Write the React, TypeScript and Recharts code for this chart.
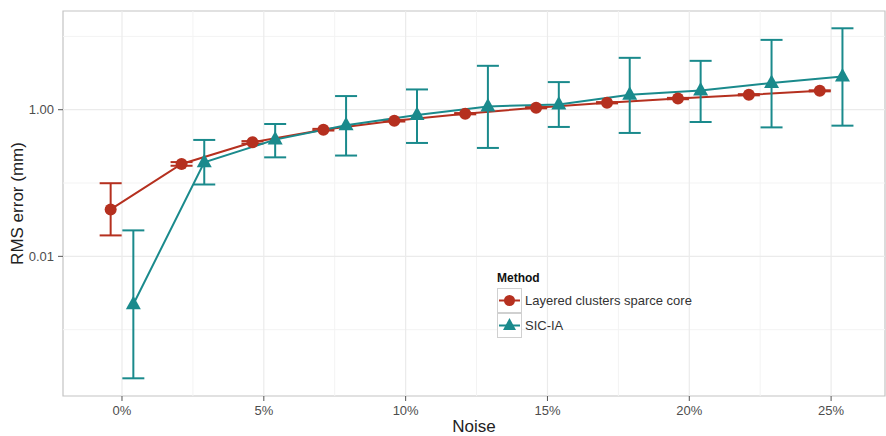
import { ComposedChart, Line, ErrorBar, XAxis, YAxis, ReferenceLine, ReferenceArea } from 'recharts';

// noise levels (%)
const noise = [0, 2.5, 5, 7.5, 10, 12.5, 15, 17.5, 20, 22.5, 25];

// Layered clusters sparce core
const layeredMean = [0.0436, 0.182, 0.359, 0.534, 0.708, 0.882, 1.065, 1.245, 1.42, 1.6, 1.81];
const layeredLow = [0.0193, 0.172, 0.345, 0.52, 0.69, 0.865, 1.045, 1.22, 1.39, 1.57, 1.78];
const layeredHigh = [0.0994, 0.193, 0.373, 0.548, 0.726, 0.9, 1.085, 1.27, 1.45, 1.63, 1.84];

// SIC-IA
const sicMean = [0.00222, 0.192, 0.391, 0.612, 0.847, 1.11, 1.18, 1.6, 1.83, 2.31, 2.84];
const sicLow = [0.000217, 0.0955, 0.224, 0.237, 0.352, 0.301, 0.582, 0.482, 0.68, 0.574, 0.606];
const sicHigh = [0.0226, 0.387, 0.638, 1.535, 1.89, 3.97, 2.38, 5.1, 4.64, 8.96, 12.9];

const xTicks = [0, 5, 10, 15, 20, 25];
const xMinor = [2.5, 7.5, 12.5, 17.5, 22.5];
const yTicks = [0.01, 1];
const yMinor = [0.001, 0.1, 10];

const RED = '#b5301f';
const TEAL = '#1a8a8c';
const DODGE = 0.4;
const X_DOMAIN: [number, number] = [-2.08, 26.9];
const Y_DOMAIN: [number, number] = [1.245e-4, 22.2];
const FONT = '"Liberation Sans", Arial, sans-serif';

const build = (mean: number[], low: number[], high: number[], shift: number) =>
    noise.map((n, i) => ({
        x: n + shift,
        y: mean[i],
        err: [mean[i] - low[i], high[i] - mean[i]],
    }));

const layeredData = build(layeredMean, layeredLow, layeredHigh, -DODGE);
const sicData = build(sicMean, sicLow, sicHigh, DODGE);

const Triangle = (props: any) => {
    const { cx, cy, fill } = props;
    if (cx == null || cy == null) return null;
    return <path d={`M${cx},${cy - 8.5}L${cx - 7.5},${cy + 5}L${cx + 7.5},${cy + 5}Z`} fill={fill} />;
};

const Circle = (props: any) => {
    const { cx, cy, fill } = props;
    if (cx == null || cy == null) return null;
    return <circle cx={cx} cy={cy} r={6} fill={fill} />;
};

const YTitle = (props: any) => {
    const vb = props.viewBox || {};
    const cy = (vb.y || 0) + (vb.height || 0) / 2;
    return (
        <text x={17} y={cy} transform={`rotate(-90, 17, ${cy})`} textAnchor="middle" dominantBaseline="central" fill="#222" fontSize={17} fontFamily={FONT}>
            RMS error (mm)
        </text>
    );
};

const XTitle = (props: any) => {
    const vb = props.viewBox || {};
    const cx = (vb.x || 0) + (vb.width || 0) / 2;
    return (
        <text x={cx} y={432} textAnchor="middle" fill="#222" fontSize={17} fontFamily={FONT}>
            Noise
        </text>
    );
};

const LegendKey = ({ color, shape }: { color: string; shape: 'circle' | 'triangle' }) => (
    <svg width={25} height={25} style={{ display: 'block' }}>
        <rect x={0.5} y={0.5} width={24} height={24} fill="#fff" stroke="#d0d0d0" />
        <line x1={2} x2={23} y1={12.5} y2={12.5} stroke={color} strokeWidth={2} />
        {shape === 'circle' ? (
            <circle cx={12.5} cy={12.5} r={5.5} fill={color} />
        ) : (
            <path d="M12.5,5L6,17L19,17Z" fill={color} />
        )}
    </svg>
);

export default function App() {
    return (
        <div style={{ position: 'absolute', left: 0, top: 0, width: 886, height: 436, background: '#fff', fontFamily: FONT }}>
            <ComposedChart width={886} height={436} margin={{ top: 11, right: 1, bottom: 0, left: 13 }}>
                {yMinor.map((v) => (
                    <ReferenceLine key={`ym${v}`} y={v} stroke="#f3f3f3" strokeWidth={1} />
                ))}
                {xMinor.map((v) => (
                    <ReferenceLine key={`xm${v}`} x={v} stroke="#f3f3f3" strokeWidth={1} />
                ))}
                {yTicks.map((v) => (
                    <ReferenceLine key={`y${v}`} y={v} stroke="#ebebeb" strokeWidth={1.2} />
                ))}
                {xTicks.map((v) => (
                    <ReferenceLine key={`x${v}`} x={v} stroke="#ebebeb" strokeWidth={1.2} />
                ))}
                <XAxis
                    type="number"
                    dataKey="x"
                    domain={X_DOMAIN}
                    allowDataOverflow
                    ticks={xTicks}
                    tickFormatter={(v) => `${v}%`}
                    axisLine={false}
                    tickLine={{ stroke: '#555' }}
                    tickSize={5}
                    tickMargin={5}
                    tick={{ fill: '#4d4d4d', fontSize: 13, fontFamily: FONT }}
                    height={40}
                    label={<XTitle />}
                />
                <YAxis
                    type="number"
                    dataKey="y"
                    scale="log"
                    domain={Y_DOMAIN}
                    allowDataOverflow
                    ticks={yTicks}
                    tickFormatter={(v) => (v === 1 ? '1.00' : '0.01')}
                    axisLine={false}
                    tickLine={{ stroke: '#555' }}
                    tickSize={5}
                    tickMargin={4}
                    tick={{ fill: '#4d4d4d', fontSize: 13, fontFamily: FONT }}
                    width={50}
                    label={<YTitle />}
                />
                <ReferenceArea
                    x1={X_DOMAIN[0]}
                    x2={X_DOMAIN[1]}
                    y1={Y_DOMAIN[0]}
                    y2={Y_DOMAIN[1]}
                    fill="none"
                    stroke="#c4c4c4"
                    strokeWidth={1.2}
                />
                <Line
                    data={layeredData}
                    dataKey="y"
                    name="Layered clusters sparce core"
                    stroke={RED}
                    strokeWidth={2}
                    fill={RED}
                    dot={<Circle fill={RED} />}
                    activeDot={false}
                    isAnimationActive={false}
                >
                    <ErrorBar dataKey="err" width={11} stroke={RED} strokeWidth={2} />
                </Line>
                <Line
                    data={sicData}
                    dataKey="y"
                    name="SIC-IA"
                    stroke={TEAL}
                    strokeWidth={2}
                    fill={TEAL}
                    dot={<Triangle fill={TEAL} />}
                    activeDot={false}
                    isAnimationActive={false}
                >
                    <ErrorBar dataKey="err" width={11} stroke={TEAL} strokeWidth={2} />
                </Line>
            </ComposedChart>
            <div style={{ position: 'absolute', left: 497, top: 271, fontFamily: FONT }}>
                <div style={{ fontWeight: 'bold', fontSize: 12, color: '#111', marginBottom: 3 }}>Method</div>
                <div style={{ display: 'flex', alignItems: 'center' }}>
                    <LegendKey color={RED} shape="circle" />
                    <span style={{ fontSize: 13, color: '#333', marginLeft: 3 }}>Layered clusters sparce core</span>
                </div>
                <div style={{ display: 'flex', alignItems: 'center' }}>
                    <LegendKey color={TEAL} shape="triangle" />
                    <span style={{ fontSize: 13, color: '#333', marginLeft: 3 }}>SIC-IA</span>
                </div>
            </div>
        </div>
    );
}
